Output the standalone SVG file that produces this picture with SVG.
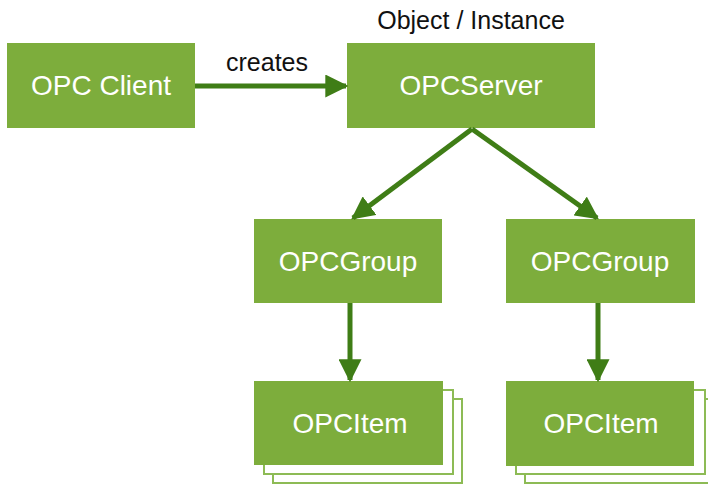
<svg xmlns="http://www.w3.org/2000/svg" width="708" height="485" viewBox="0 0 708 485">
<style>
.box{fill:#7dad3c}
.stack{fill:#fff;stroke:#8dbb55;stroke-width:2}
.lbl{font-family:"Liberation Sans",Arial,sans-serif;font-size:28px;fill:#fff;text-anchor:middle}
.cap{font-family:"Liberation Sans",Arial,sans-serif;font-size:25px;fill:#111;text-anchor:middle}
.conn{stroke:#3f7d16;stroke-width:5;fill:none}
</style>
<defs>
<marker id="ah" viewBox="0 0 10 10" refX="9" refY="5" markerWidth="4.6" markerHeight="4.6" markerUnits="strokeWidth" orient="auto">
<path d="M0,0 L10,5 L0,10 Z" fill="#3f7d16"/>
</marker>
</defs>
<rect width="708" height="485" fill="#fff"/>
<g id="client"><rect class="box" x="7" y="43" width="188" height="85"/><text class="lbl" x="101" y="95">OPC Client</text></g>
<g id="server"><rect class="box" x="347" y="43" width="248" height="85"/><text class="lbl" x="471" y="95">OPCServer</text></g>
<text class="cap" x="471" y="29">Object / Instance</text>
<g id="group1"><rect class="box" x="254" y="219" width="188" height="84"/><text class="lbl" x="348" y="271">OPCGroup</text></g>
<g id="group2"><rect class="box" x="506" y="219" width="189" height="84"/><text class="lbl" x="600" y="271">OPCGroup</text></g>
<g id="item1">
<rect class="stack" x="273" y="399" width="189" height="84"/>
<rect class="stack" x="264" y="390" width="189" height="84"/>
<rect class="box" x="254" y="381" width="189" height="84"/>
<text class="lbl" x="350" y="433">OPCItem</text></g>
<g id="item2">
<rect class="stack" x="525" y="399" width="189" height="84"/>
<rect class="stack" x="516" y="390" width="189" height="84"/>
<rect class="box" x="506" y="381" width="188" height="85"/>
<text class="lbl" x="601" y="433">OPCItem</text></g>
<g id="connectors">
<line class="conn" x1="195" y1="86" x2="346" y2="86" marker-end="url(#ah)"/>
<text class="cap" x="267" y="71">creates</text>
<line class="conn" x1="472" y1="129" x2="353" y2="218" marker-end="url(#ah)"/>
<line class="conn" x1="472" y1="129" x2="597" y2="218" marker-end="url(#ah)"/>
<line class="conn" x1="350" y1="303" x2="350" y2="380" marker-end="url(#ah)"/>
<line class="conn" x1="598" y1="303" x2="598" y2="380" marker-end="url(#ah)"/>
</g>
</svg>
